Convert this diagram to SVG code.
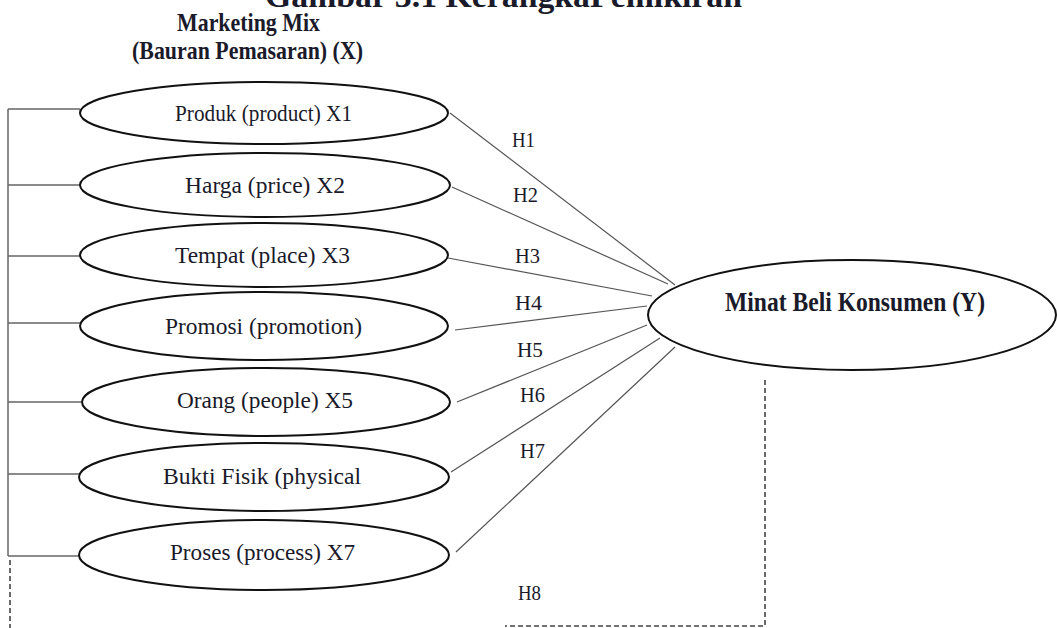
<svg xmlns="http://www.w3.org/2000/svg" width="1057" height="628" viewBox="0 0 1057 628">
<style>
.t{font-family:"Liberation Serif","Times New Roman",serif;fill:#1a1a2a}
.b{font-weight:bold}
.node{fill:#fff;stroke:#111;stroke-width:2}
.lbl{font-size:24px;text-anchor:middle}
.h{font-size:21px}
.con{stroke:#555;stroke-width:1.2;fill:none}
.br{stroke:#666;stroke-width:1.5;fill:none}
.dash{stroke:#444;stroke-width:1.6;stroke-dasharray:5 3;fill:none}
</style>
<rect width="1057" height="628" fill="#fff"/>
<text class="t b" x="265" y="7" font-size="32" textLength="477" lengthAdjust="spacingAndGlyphs">Gambar 3.1 KerangkaPemikiran</text>
<text class="t b" x="177" y="31" font-size="25" textLength="143" lengthAdjust="spacingAndGlyphs">Marketing Mix</text>
<text class="t b" x="132" y="59" font-size="25" textLength="231" lengthAdjust="spacingAndGlyphs">(Bauran Pemasaran) (X)</text>

<g id="connectors">
<path class="br" d="M8,109 V556 M8,109 H80 M8,185 H80 M8,256 H80 M8,323 H80 M8,402 H81 M8,474 H80 M8,556 H80"/>
<line class="con" x1="450" y1="113" x2="675" y2="285"/>
<line class="con" x1="452" y1="187" x2="668" y2="284"/>
<line class="con" x1="448" y1="258" x2="652" y2="296"/>
<line class="con" x1="455" y1="330" x2="647" y2="306"/>
<line class="con" x1="457" y1="402" x2="647" y2="325"/>
<line class="con" x1="451" y1="472" x2="660" y2="338"/>
<line class="con" x1="456" y1="552" x2="675" y2="347"/>
<path class="dash" d="M10,560 V628"/>
<path class="dash" d="M765,380 V626 H505"/>
<text class="t h" x="512" y="147" textLength="23" lengthAdjust="spacingAndGlyphs">H1</text>
<text class="t h" x="513" y="202" textLength="25" lengthAdjust="spacingAndGlyphs">H2</text>
<text class="t h" x="515" y="263" textLength="25" lengthAdjust="spacingAndGlyphs">H3</text>
<text class="t h" x="515" y="310" textLength="27" lengthAdjust="spacingAndGlyphs">H4</text>
<text class="t h" x="517" y="357" textLength="26" lengthAdjust="spacingAndGlyphs">H5</text>
<text class="t h" x="520" y="402" textLength="25" lengthAdjust="spacingAndGlyphs">H6</text>
<text class="t h" x="520" y="458" textLength="25" lengthAdjust="spacingAndGlyphs">H7</text>
<text class="t h" x="518" y="600" textLength="23" lengthAdjust="spacingAndGlyphs">H8</text>
</g>

<g id="x1"><ellipse class="node" cx="264" cy="113" rx="184" ry="31"/><text class="t lbl" x="263.5" y="121" textLength="177" lengthAdjust="spacingAndGlyphs">Produk (product) X1</text></g>
<g id="x2"><ellipse class="node" cx="265" cy="185" rx="185" ry="32"/><text class="t lbl" x="265" y="193" textLength="160" lengthAdjust="spacingAndGlyphs">Harga (price) X2</text></g>
<g id="x3"><ellipse class="node" cx="264" cy="255" rx="184" ry="32"/><text class="t lbl" x="262.5" y="263" textLength="175" lengthAdjust="spacingAndGlyphs">Tempat (place) X3</text></g>
<g id="x4"><ellipse class="node" cx="264" cy="326" rx="184" ry="34"/><text class="t lbl" x="263.5" y="334" textLength="197" lengthAdjust="spacingAndGlyphs">Promosi (promotion)</text></g>
<g id="x5"><ellipse class="node" cx="266" cy="402" rx="184" ry="34"/><text class="t lbl" x="265" y="408" textLength="176" lengthAdjust="spacingAndGlyphs">Orang (people) X5</text></g>
<g id="x6"><ellipse class="node" cx="264" cy="477" rx="185" ry="34"/><text class="t lbl" x="262" y="484" textLength="198" lengthAdjust="spacingAndGlyphs">Bukti Fisik (physical</text></g>
<g id="x7"><ellipse class="node" cx="264" cy="555" rx="185" ry="35"/><text class="t lbl" x="262.5" y="560" textLength="185" lengthAdjust="spacingAndGlyphs">Proses (process) X7</text></g>
<g id="y"><ellipse class="node" cx="852" cy="315" rx="204" ry="55"/><text class="t b" x="855" y="311" font-size="27" text-anchor="middle" textLength="260" lengthAdjust="spacingAndGlyphs">Minat Beli Konsumen (Y)</text></g>
</svg>
